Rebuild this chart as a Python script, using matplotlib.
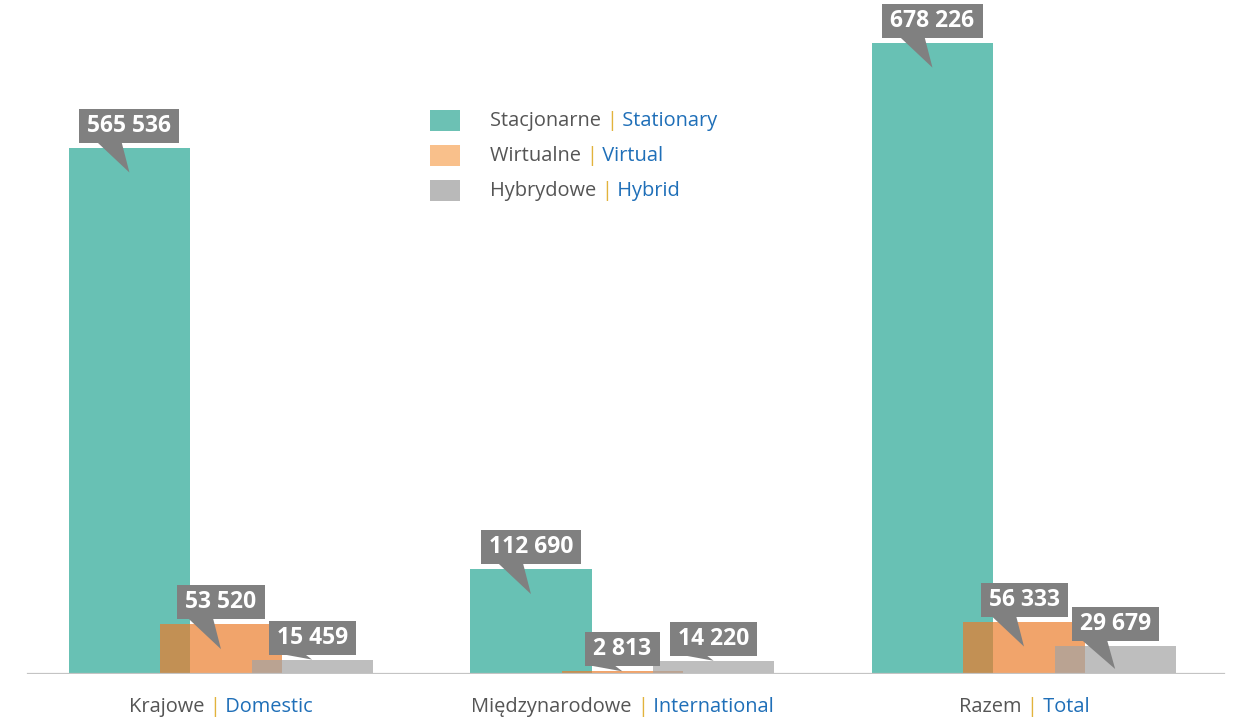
import numpy as np
import matplotlib
matplotlib.use('Agg')
import matplotlib.pyplot as plt
from matplotlib import transforms
from matplotlib.patches import Polygon, Rectangle

categories_pl = ['Krajowe', 'Międzynarodowe', 'Razem']
categories_en = ['Domestic', 'International', 'Total']
series_pl = ['Stacjonarne', 'Wirtualne', 'Hybrydowe']
series_en = ['Stationary', 'Virtual', 'Hybrid']
stationary = [565536, 112690, 678226]
virtual = [53520, 2813, 56333]
hybrid = [15459, 14220, 29679]
value_labels = [['565 536', '112 690', '678 226'],
                ['53 520', '2 813', '56 333'],
                ['15 459', '14 220', '29 679']]

FONT = 'Open Sans'
DARK = '#555555'
GOLD = '#e2b33c'
BLUE = '#1f6fb8'
DPI = 100
W, H = 1234, 719

fig = plt.figure(figsize=(W / DPI, H / DPI), dpi=DPI)
ax = fig.add_axes([0, 45 / H, 1, 674 / H])
ax.set_xlim(-0.5504, 2.523)
ax.set_ylim(0, 724000)
ax.axis('off')

x = np.arange(len(categories_pl))
width = 0.302
offsets = [-0.228, 0.0, 0.227]
bar_colors = ['#68c1b4', '#ec7b29', '#a3a3a3']
bar_alpha = [1.0, 0.69, 0.7]
series = [stationary, virtual, hybrid]
for vals, off, col, al, z in zip(series, offsets, bar_colors, bar_alpha, [2, 3, 4]):
    ax.bar(x + off, vals, width=width, color=col, alpha=al, zorder=z, linewidth=0)

ax.axhline(0, xmin=28 / W, xmax=1224 / W, color='#c4c4c4', lw=1.6, zorder=5)

renderer = fig.canvas.get_renderer()
# pixel coordinates for the whole figure
pix = transforms.Affine2D().scale(1 / DPI) + fig.dpi_scale_trans


def anchor(xd, yd):
    # pixel offsets from a data point
    return pix + transforms.ScaledTranslation(xd, yd, ax.transData)


def multi_text(parts, tr, x0, y, size, center=False):
    texts = []
    for s, c in parts:
        t = fig.text(0, y, s, transform=tr, color=c, fontsize=size,
                     family=FONT, ha='left', va='center')
        texts.append(t)
    widths = [t.get_window_extent(renderer).width for t in texts]
    pos = x0 - sum(widths) / 2 if center else x0
    for t, w in zip(texts, widths):
        t.set_x(pos)
        pos += w
    return texts


# callouts
for si, (vals, off) in enumerate(zip(series, offsets)):
    for ci, v in enumerate(vals):
        xd = x[ci] + off
        tr = anchor(xd, v)
        h_px = ax.transData.transform((xd, v))[1] - ax.transData.transform((xd, 0))[1]
        depth = min(25, h_px - 5) if h_px >= 20 else 0
        t = fig.text(0, 22, value_labels[si][ci], transform=tr, color='white',
                     fontsize=16.5, fontweight='bold', family=FONT,
                     ha='center', va='center', zorder=11)
        tw = t.get_window_extent(renderer).width
        bw = tw + 16
        box = Rectangle((-bw / 2, 5), bw, 34, transform=tr, facecolor='#808080',
                        edgecolor='none', zorder=10)
        tri = Polygon([(-33, 6), (-8, 6), (0, -depth)], closed=True, transform=tr,
                      facecolor='#808080', edgecolor='none', zorder=10)
        fig.add_artist(box)
        fig.add_artist(tri)

# category labels
for ci in range(len(categories_pl)):
    multi_text([(categories_pl[ci] + ' ', DARK), ('|', GOLD), (' ' + categories_en[ci], BLUE)],
               anchor(x[ci], 0), 0, -33, 14.4, center=True)

# legend
legend_colors = ['#6cc1b4', '#f9c08b', '#b9b9b9']
for i in range(3):
    yc = H - (120 + 35 * i)
    fig.add_artist(Rectangle((430, yc - 10.5), 30, 21, transform=pix,
                             facecolor=legend_colors[i], edgecolor='none'))
    multi_text([(series_pl[i] + ' ', DARK), ('|', GOLD), (' ' + series_en[i], BLUE)],
               pix, 490, yc - 1, 14.4)

fig.savefig('out.png', dpi=DPI, facecolor='white')
